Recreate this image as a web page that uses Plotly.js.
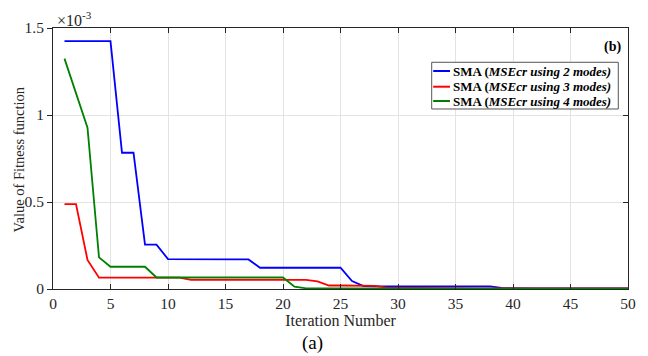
<!DOCTYPE html>
<html>
<head>
<meta charset="utf-8">
<script src="https://cdn.plot.ly/plotly-3.0.1.min.js"></script>
<style>html,body{margin:0;padding:0;background:#fff}#chart{width:648px;height:356px}</style>
</head>
<body>
<div id="chart"></div>
<script>
var iterations = [];
for (var i = 1; i <= 50; i++) iterations.push(i);

var sma2Modes = [1.425e-3,1.425e-3,1.425e-3,1.425e-3,1.425e-3,0.783e-3,0.783e-3,0.255e-3,0.255e-3,0.172e-3,
  0.171e-3,0.170e-3,0.170e-3,0.170e-3,0.170e-3,0.170e-3,0.170e-3,0.122e-3,0.122e-3,0.122e-3,
  0.122e-3,0.122e-3,0.122e-3,0.122e-3,0.122e-3,0.046e-3,0.017e-3,0.015e-3,0.015e-3,0.015e-3,
  0.015e-3,0.015e-3,0.015e-3,0.015e-3,0.015e-3,0.015e-3,0.015e-3,0.015e-3,0.006e-3,0.004e-3,
  0.003e-3,0.003e-3,0.003e-3,0.003e-3,0.003e-3,0.003e-3,0.003e-3,0.003e-3,0.003e-3,0.003e-3];

var sma3Modes = [0.488e-3,0.488e-3,0.167e-3,0.065e-3,0.065e-3,0.065e-3,0.065e-3,0.065e-3,0.065e-3,0.065e-3,
  0.065e-3,0.053e-3,0.053e-3,0.053e-3,0.053e-3,0.053e-3,0.053e-3,0.053e-3,0.053e-3,0.053e-3,
  0.052e-3,0.052e-3,0.044e-3,0.020e-3,0.020e-3,0.020e-3,0.020e-3,0.018e-3,0.008e-3,0.007e-3,
  0.006e-3,0.005e-3,0.005e-3,0.005e-3,0.005e-3,0.004e-3,0.004e-3,0.004e-3,0.004e-3,0.003e-3,
  0.003e-3,0.003e-3,0.003e-3,0.003e-3,0.003e-3,0.003e-3,0.003e-3,0.003e-3,0.003e-3,0.003e-3];

var sma4Modes = [1.324e-3,1.125e-3,0.927e-3,0.182e-3,0.128e-3,0.128e-3,0.128e-3,0.128e-3,0.066e-3,0.066e-3,
  0.066e-3,0.066e-3,0.066e-3,0.066e-3,0.066e-3,0.066e-3,0.066e-3,0.066e-3,0.066e-3,0.066e-3,
  0.013e-3,0.004e-3,0.003e-3,0.003e-3,0.003e-3,0.003e-3,0.003e-3,0.003e-3,0.003e-3,0.003e-3,
  0.003e-3,0.003e-3,0.003e-3,0.003e-3,0.003e-3,0.003e-3,0.003e-3,0.003e-3,0.003e-3,0.003e-3,
  0.002e-3,0.002e-3,0.002e-3,0.002e-3,0.002e-3,0.002e-3,0.002e-3,0.002e-3,0.002e-3,0.002e-3];

var seriesNames = [
  '<b>SMA (<i>MSEcr using 2 modes)</i></b>',
  '<b>SMA (<i>MSEcr using 3 modes)</i></b>',
  '<b>SMA (<i>MSEcr using 4 modes)</i></b>'
];
var seriesColors = ['#0000ff', '#ff0000', '#008000'];
var xTickVals = [0,5,10,15,20,25,30,35,40,45,50];
var yTickVals = [0, 0.5e-3, 1e-3, 1.5e-3];
var yTickText = ['0','0.5','1','1.5'];

var font = 'Liberation Serif, Times New Roman, serif';
var allSeries = [sma2Modes, sma3Modes, sma4Modes];
var traces = allSeries.map(function (s, k) {
  return {x: iterations, y: s, name: seriesNames[k], mode: 'lines', showlegend: false,
          line: {color: seriesColors[k], width: 1.8}};
});
traces.push({x: [null], y: [null], yaxis: 'y2', showlegend: false, hoverinfo: 'skip'});

// manual legend (box, sample lines, labels) in paper coordinates
var legBox = {x0: 0.6586, x1: 0.9831, y0: 0.6897, y1: 0.8686};
var legRowsY = [0.8352, 0.7751, 0.7203];
var shapes = [{type: 'rect', xref: 'paper', yref: 'paper', x0: legBox.x0, x1: legBox.x1, y0: legBox.y0, y1: legBox.y1,
  fillcolor: '#ffffff', line: {color: '#555555', width: 1}, layer: 'above'}];
var annotations = [];
legRowsY.forEach(function (yy, k) {
  shapes.push({type: 'line', xref: 'paper', yref: 'paper', x0: 0.6612, x1: 0.6904, y0: yy, y1: yy,
    line: {color: seriesColors[k], width: 2}, layer: 'above'});
  annotations.push({xref: 'paper', yref: 'paper', x: 0.6922, y: yy, xanchor: 'left', yanchor: 'middle',
    showarrow: false, text: seriesNames[k], font: {family: font, size: 13, color: '#000000'}});
});
annotations.push(
  {xref: 'paper', yref: 'paper', x: 0.0035, y: 1.0, xanchor: 'left', yanchor: 'bottom', showarrow: false,
   text: '\u00d710<sup>-3</sup>', font: {family: font, size: 16, color: '#262626'}, yshift: -3},
  {xref: 'paper', yref: 'paper', x: 0.9911, y: 0.927, xanchor: 'right', yanchor: 'middle', showarrow: false,
   text: '<b>(b)</b>', font: {family: font, size: 14, color: '#000000'}},
  {xref: 'paper', yref: 'paper', x: -0.0585, y: 0.498, xanchor: 'center', yanchor: 'middle', showarrow: false,
   textangle: -90, text: 'Value of Fitness function', font: {family: font, size: 14.5, color: '#262626'}},
  {xref: 'paper', yref: 'paper', x: 0.452, y: -0.207, xanchor: 'center', yanchor: 'middle', showarrow: false,
   text: '(a)', font: {family: font, size: 19, color: '#000000'}}
);

var layout = {
  width: 648, height: 356,
  margin: {l: 53, r: 20, t: 28, b: 67},
  paper_bgcolor: '#ffffff', plot_bgcolor: '#ffffff',
  font: {family: font, size: 15, color: '#262626'},
  showlegend: false,
  xaxis: {
    range: [0, 50], tickvals: xTickVals, ticks: 'inside', ticklen: 5, tickcolor: '#262626',
    showline: true, linecolor: '#262626', linewidth: 1, mirror: 'ticks',
    showgrid: true, gridcolor: '#e3e3e3', zeroline: false,
    tickfont: {family: font, size: 15.5, color: '#262626'},
    title: {text: 'Iteration Number', font: {family: font, size: 16, color: '#262626'}, standoff: 2}
  },
  yaxis: {
    range: [0, 1.5e-3], tickvals: yTickVals, ticktext: yTickText, ticks: 'outside', ticklen: 5, tickcolor: '#262626',
    showline: true, linecolor: '#262626', linewidth: 1, mirror: true,
    showgrid: true, gridcolor: '#e3e3e3', zeroline: false,
    tickfont: {family: font, size: 15.5, color: '#262626'}
  },
  yaxis2: {
    overlaying: 'y', side: 'right', range: [0, 1.5e-3], tickvals: yTickVals, showticklabels: false,
    ticks: 'inside', ticklen: 5, tickcolor: '#262626', showgrid: false, zeroline: false, showline: false
  },
  shapes: shapes,
  annotations: annotations
};

Plotly.newPlot('chart', traces, layout, {displayModeBar: false, staticPlot: true});
</script>
</body>
</html>
